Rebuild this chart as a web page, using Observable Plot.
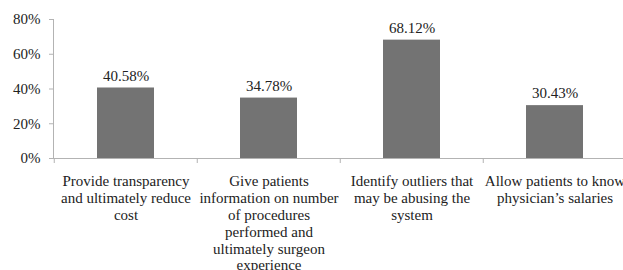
<!DOCTYPE html>
<html><head><meta charset="utf-8">
<script src="https://cdn.jsdelivr.net/npm/d3@7"></script>
<script src="https://cdn.jsdelivr.net/npm/@observablehq/plot@0.6"></script>
<style>
body{margin:0;background:#fff}
#chart svg{overflow:visible}
</style>
</head><body><div id="chart"></div>
<script>
const categories = [
  "Provide transparency and ultimately reduce cost",
  "Give patients information on number of procedures performed and ultimately surgeon experience",
  "Identify outliers that may be abusing the system",
  "Allow patients to know physician’s salaries"
];
const categoryLabels = [
  "Provide transparency\nand ultimately reduce\ncost",
  "Give patients\ninformation on number\nof procedures\nperformed and\nultimately surgeon\nexperience",
  "Identify outliers that\nmay be abusing the\nsystem",
  "Allow patients to know\nphysician’s salaries"
];
const values = [40.58, 34.78, 68.12, 30.43];
const yTicks = [0, 20, 40, 60, 80];

const data = categories.map((c, i) => ({category: c, value: values[i]}));
const labelOf = new Map(categories.map((c, i) => [c, categoryLabels[i]]));

const W = 623, ML = 53, MR = -4;
const step = (W - ML - MR) / categories.length;
const axisColor = "#b3b3b3";

const chart = Plot.plot({
  width: W, height: 270,
  marginLeft: ML, marginRight: MR, marginTop: 19, marginBottom: 112,
  style: {fontFamily: "'Liberation Serif', serif", fontSize: "15px", color: "#222", background: "#fff", overflow: "visible"},
  x: {domain: categories, paddingInner: 0.6, paddingOuter: 0.3, axis: null},
  y: {domain: [0, 80], axis: null},
  marks: [
    Plot.barY(data, {x: "category", y: "value", fill: "#737373"}),
    Plot.text(data, {x: "category", y: "value", text: d => d.value.toFixed(2) + "%", dy: -12, fill: "#222"}),
    Plot.axisY({ticks: yTicks, tickFormat: d => d + "%", tickSize: 4, tickPadding: 9, stroke: axisColor, fill: "#222", label: null}),
    Plot.frame({anchor: "left", stroke: axisColor}),
    Plot.ruleY([0], {stroke: axisColor}),
    Plot.axisX({tickSize: 5, tickFormat: () => "", dx: -step / 2, stroke: axisColor, label: null}),
    Plot.axisX({tickSize: 0, tickPadding: 16, tickFormat: d => labelOf.get(d), lineHeight: 1.12, fill: "#222", label: null})
  ]
});
document.getElementById("chart").appendChild(chart);
</script>
</body></html>
